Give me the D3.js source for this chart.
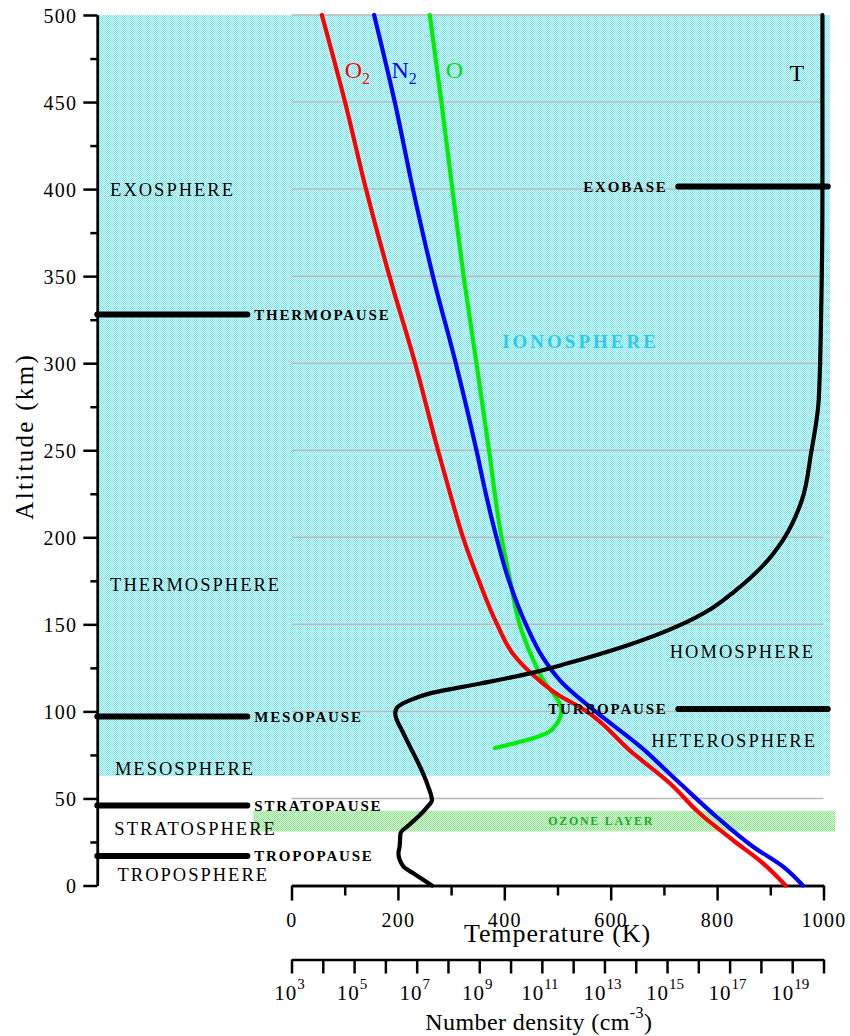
<!DOCTYPE html>
<html>
<head>
<meta charset="utf-8">
<script src="https://cdn.jsdelivr.net/npm/d3@7"></script>
<style>
  html, body { margin: 0; padding: 0; background: #ffffff; }
  svg { display: block; }
  text { font-family: "Liberation Serif", "Times New Roman", serif; }
</style>
</head>
<body>
<script>
// ---- Temperature profile (altitude km, temperature K) ----
const tempAlt = [0, 7, 11, 18.6, 22, 30, 35, 40, 45, 49, 56.8, 66, 76, 87.6, 99, 102, 106.5, 110.5, 116, 122, 127.6, 138, 149, 159, 169, 183, 199, 221, 249, 279, 336, 400, 500];
const tempK   = [264, 229, 210, 201, 203, 205, 222, 240, 255, 264, 257, 245, 229, 210, 195, 198, 223, 262, 355, 450, 519, 632, 726, 789, 833, 884, 925, 959, 977, 991, 996, 998, 998];

// ---- Number densities, stored as log10(n / cm^-3) ----
const o2Alt = [0, 12.7, 26, 41.5, 58.7, 76, 101, 110, 120, 133, 150, 175, 200, 225, 250, 300, 350, 400, 450, 500];
const o2Log = [18.79, 18.07, 17.11, 16.04, 15.09, 13.91, 12.35, 11.48, 10.78, 10.08, 9.57, 8.99, 8.48, 8.07, 7.68, 6.95, 6.13, 5.38, 4.71, 3.97];

const n2Alt = [0, 10.8, 22.3, 39.5, 58.7, 80, 101, 114, 118, 131, 150, 175, 200, 225, 250, 300, 350, 400, 450, 500];
const n2Log = [19.34, 18.71, 17.75, 16.58, 15.41, 14.13, 12.64, 11.79, 11.57, 11.03, 10.49, 9.95, 9.55, 9.21, 8.91, 8.25, 7.52, 6.88, 6.30, 5.64];

const oAlt = [79, 89.3, 100.8, 104.6, 118, 131, 150, 175, 200, 250, 300, 350, 400, 450, 500];
const oLog = [9.50, 11.31, 11.63, 11.57, 11.04, 10.69, 10.29, 9.99, 9.71, 9.31, 8.91, 8.50, 8.14, 7.79, 7.42];

// ---- Layer boundaries (altitude km) ----
const leftBoundaryNames = ["THERMOPAUSE", "MESOPAUSE", "STRATOPAUSE", "TROPOPAUSE"];
const leftBoundaryAlt   = [328, 97, 46, 17];
const rightBoundaryNames = ["EXOBASE", "TURBOPAUSE"];
const rightBoundaryAlt   = [401.5, 101.4];

// ---- Shaded regions (altitude km) ----
const ionosphereRange = [63, 500];
const ozoneRange = [31, 43];

// ---- Axis ticks ----
const altMajorTicks = d3.range(0, 501, 50);
const altMinorTicks = d3.range(25, 500, 50);
const tempMajorTicks = [0, 200, 400, 600, 800, 1000];
const tempMinorTicks = [100, 300, 500, 700, 900];
const densityExponents = d3.range(3, 21);
const densityLabelExponents = [3, 5, 7, 9, 11, 13, 15, 17, 19];
const gridAlts = d3.range(50, 501, 50);

// ---- Region names ----
const regionNames = ["EXOSPHERE", "THERMOSPHERE", "MESOSPHERE", "STRATOSPHERE", "TROPOSPHERE", "HOMOSPHERE", "HETEROSPHERE"];

// ================= drawing =================
const W = 850, H = 1036;
const svg = d3.select("body").append("svg").attr("width", W).attr("height", H);

const y = d3.scaleLinear().domain([0, 500]).range([885.5, 15]);
const x = d3.scaleLinear().domain([0, 1000]).range([291.5, 823.5]);
const xn = d3.scaleLog().domain([1e3, 1e20]).range([291.5, 823.5]);

// Panel extent in temperature units (the altitude axis sits left of 0 K)
const panelLeftK = -365;
const axisX = x(panelLeftK);

// Dotted fills
const defs = svg.append("defs");
function dotPattern(id, base, dot) {
  const p = defs.append("pattern").attr("id", id)
    .attr("patternUnits", "userSpaceOnUse").attr("width", 2).attr("height", 2);
  p.append("rect").attr("width", 2).attr("height", 2).attr("fill", base);
  p.append("rect").attr("x", 0).attr("y", 0).attr("width", 1).attr("height", 1).attr("fill", dot);
  p.append("rect").attr("x", 1).attr("y", 1).attr("width", 1).attr("height", 1).attr("fill", dot);
}
dotPattern("cyanDots", "#eaffff", "#6ceaf2");
dotPattern("greenDots", "#eeffee", "#7cee7c");

// Ionosphere shading
svg.append("rect")
  .attr("x", axisX).attr("y", y(ionosphereRange[1]))
  .attr("width", x(1012) - axisX)
  .attr("height", y(ionosphereRange[0]) - y(ionosphereRange[1]))
  .attr("fill", "url(#cyanDots)");

// Ozone band
svg.append("rect")
  .attr("x", x(-72)).attr("y", y(ozoneRange[1]))
  .attr("width", x(1022) - x(-72))
  .attr("height", y(ozoneRange[0]) - y(ozoneRange[1]))
  .attr("fill", "url(#greenDots)");

// Gridlines
svg.append("g").selectAll("line").data(gridAlts).join("line")
  .attr("x1", x(0)).attr("x2", x(1000))
  .attr("y1", d => y(d)).attr("y2", d => y(d))
  .attr("stroke", "#b8b8b8").attr("stroke-width", 1.5);

// Altitude axis
function styleAxis(g) {
  g.select(".domain").attr("stroke", "#000").attr("stroke-width", 2.5);
  g.selectAll(".tick line").attr("stroke", "#000").attr("stroke-width", 2.5);
  g.selectAll(".tick text").attr("fill", "#000")
    .style("font-family", '"Liberation Serif", "Times New Roman", serif')
    .style("font-size", "20px").style("letter-spacing", "1.3px");
}
svg.append("g").attr("transform", `translate(${axisX},0)`)
  .call(d3.axisLeft(y).tickValues(altMinorTicks).tickSize(7).tickSizeOuter(0).tickFormat(""))
  .call(styleAxis);
svg.append("g").attr("transform", `translate(${axisX},0)`)
  .call(d3.axisLeft(y).tickValues(altMajorTicks).tickSize(14).tickSizeOuter(0).tickPadding(6).tickFormat(d3.format("d")))
  .call(styleAxis)
  .call(g => g.selectAll(".tick text").attr("dy", "0.36em"));

svg.append("text")
  .attr("transform", `translate(33,${y(258)}) rotate(-90)`)
  .attr("text-anchor", "middle")
  .style("font-size", "25px").style("letter-spacing", "2.3px")
  .text("Altitude (km)");

// Temperature axis
svg.append("g").attr("transform", `translate(0,${y(0)})`)
  .call(d3.axisBottom(x).tickValues(tempMinorTicks).tickSize(10).tickSizeOuter(0).tickFormat(""))
  .call(styleAxis);
svg.append("g").attr("transform", `translate(0,${y(0)})`)
  .call(d3.axisBottom(x).tickValues(tempMajorTicks).tickSize(15).tickSizeOuter(0).tickPadding(12).tickFormat(d3.format("d")))
  .call(styleAxis);

// Density axis
const densY = 959.5;
svg.append("g").attr("transform", `translate(0,${densY})`)
  .call(d3.axisTop(xn).tickValues(densityExponents.map(e => Math.pow(10, e))).tickSize(-14).tickSizeOuter(0).tickFormat(""))
  .call(styleAxis);
const dl = svg.append("g").selectAll("text").data(densityLabelExponents).join("text")
  .attr("x", e => xn(Math.pow(10, e)) - 2)
  .attr("y", 1000)
  .attr("text-anchor", "middle")
  .style("font-size", "21px");
dl.append("tspan").text("10").style("letter-spacing", "1px");
dl.append("tspan").attr("dy", -11).style("font-size", "15px").text(e => e);

// Axis titles
svg.append("text").attr("x", x(500)).attr("y", 942)
  .attr("text-anchor", "middle")
  .style("font-size", "26px").style("letter-spacing", "0.9px")
  .text("Temperature (K)");
const nd = svg.append("text").attr("x", x(465)).attr("y", 1030)
  .attr("text-anchor", "middle")
  .style("font-size", "24px").style("letter-spacing", "0.4px");
nd.append("tspan").text("Number density (cm");
nd.append("tspan").attr("dy", -12).style("font-size", "16px").text("-3");
nd.append("tspan").attr("dy", 12).text(")");

// Curves
const curveLine = d3.line().curve(d3.curveMonotoneY);
function densityPath(alts, logs) {
  return curveLine(alts.map((a, i) => [xn(Math.pow(10, logs[i])), y(a)]));
}
const curves = svg.append("g").attr("fill", "none")
  .attr("stroke-width", 4.2).attr("stroke-linejoin", "round").attr("stroke-linecap", "round");
curves.append("path").attr("d", densityPath(oAlt, oLog)).attr("stroke", "#00ee00");
curves.append("path").attr("d", densityPath(n2Alt, n2Log)).attr("stroke", "#0000ff");
curves.append("path").attr("d", densityPath(o2Alt, o2Log)).attr("stroke", "#ff0000");
curves.append("path")
  .attr("d", curveLine(tempAlt.map((a, i) => [x(tempK[i]), y(a)])))
  .attr("stroke", "#000");

// Boundary bars
const bars = svg.append("g").attr("stroke", "#000").attr("stroke-width", 6).attr("stroke-linecap", "round");
bars.selectAll(".lb").data(leftBoundaryAlt).join("line")
  .attr("x1", axisX).attr("x2", x(-83))
  .attr("y1", d => y(d)).attr("y2", d => y(d));
bars.selectAll(".rb").data(rightBoundaryAlt).join("line")
  .attr("x1", x(727)).attr("x2", x(1008))
  .attr("y1", d => y(d)).attr("y2", d => y(d));

const smallLabel = { "font-size": "15px", "font-weight": "bold", "letter-spacing": "1.8px" };
function applyStyle(sel, st) { Object.entries(st).forEach(([k, v]) => sel.style(k, v)); return sel; }

applyStyle(svg.append("g").selectAll("text").data(leftBoundaryNames).join("text")
  .attr("x", x(-70))
  .attr("y", (d, i) => y(leftBoundaryAlt[i]))
  .attr("dy", "0.36em")
  .text(d => d), smallLabel);

applyStyle(svg.append("g").selectAll("text").data(rightBoundaryNames).join("text")
  .attr("x", x(707))
  .attr("y", (d, i) => y(rightBoundaryAlt[i]))
  .attr("dy", "0.36em")
  .attr("text-anchor", "end")
  .text(d => d), smallLabel);

// Region names: [temperature-unit x, altitude of baseline]
const regionPos = [[-341, 396], [-341, 169], [-332, 63.5], [-333, 29], [-327, 2.6], [711, 130.5], [676, 79.5]];
svg.append("g").selectAll("text").data(regionNames).join("text")
  .attr("x", (d, i) => x(regionPos[i][0]))
  .attr("y", (d, i) => y(regionPos[i][1]))
  .style("font-size", "18.5px").style("letter-spacing", "2px")
  .text(d => d);

svg.append("text").attr("x", x(396)).attr("y", y(309))
  .attr("fill", "#2cc8f0")
  .style("font-size", "19px").style("font-weight", "bold").style("letter-spacing", "3px")
  .text("IONOSPHERE");

svg.append("text").attr("x", x(582)).attr("y", y(34.7))
  .attr("text-anchor", "middle").attr("fill", "#1ea82a")
  .style("font-size", "12px").style("font-weight", "bold").style("letter-spacing", "1.7px")
  .text("OZONE LAYER");

// Curve labels
function speciesLabel(px, py, base, sub, color) {
  const t = svg.append("text").attr("x", px).attr("y", py).attr("fill", color).style("font-size", "24px");
  t.append("tspan").text(base);
  if (sub) t.append("tspan").attr("dy", 6).style("font-size", "16px").text(sub);
}
speciesLabel(x(100), y(464), "O", "2", "#ff0000");
speciesLabel(x(188), y(464), "N", "2", "#0000ff");
speciesLabel(x(290), y(464), "O", null, "#00dd00");
speciesLabel(x(936), y(462), "T", null, "#000");
</script>
</body>
</html>
